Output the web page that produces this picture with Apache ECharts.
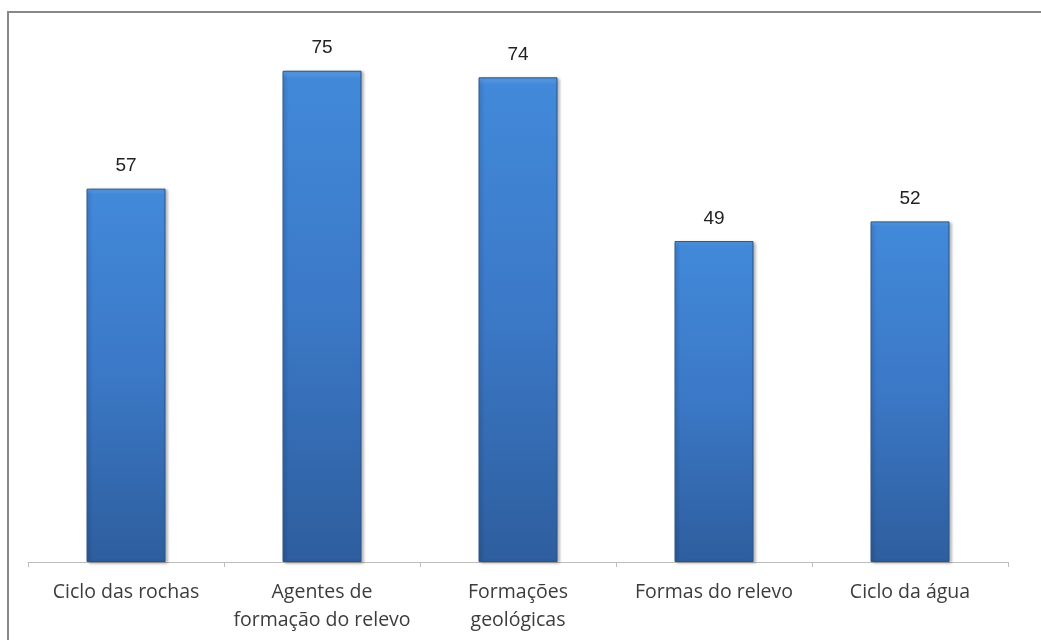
<!DOCTYPE html>
<html>
<head>
<meta charset="utf-8">
<script src="https://cdn.jsdelivr.net/npm/echarts@6/dist/echarts.min.js"></script>
<style>
html,body{margin:0;padding:0;background:#fff;}
#frame{position:absolute;left:7px;top:11px;width:1100px;height:700px;border-top:2px solid #888;border-left:2px solid #888;}
#chart{position:absolute;left:0;top:0;width:1041px;height:640px;}
</style>
</head>
<body>
<div id="frame"></div>
<div id="chart"></div>
<script>
const categories = ["Ciclo das rochas", "Agentes de\nformação do relevo", "Formações\ngeológicas", "Formas do relevo", "Ciclo da água"];
const values = [57, 75, 74, 49, 52];

const chart = echarts.init(document.getElementById('chart'));
chart.setOption({
  backgroundColor: 'transparent',
  animation: false,
  grid: {left: 28, right: 33, top: 38, bottom: 78},
  xAxis: {
    type: 'category',
    data: categories,
    axisLine: {lineStyle: {color: '#bdbdbd', width: 1}},
    axisTick: {show: true, length: 5, lineStyle: {color: '#bdbdbd'}},
    axisLabel: {
      interval: 0, margin: 16, fontSize: 19.5, lineHeight: 28,
      color: '#3c3c3c', fontFamily: 'Open Sans'
    }
  },
  yAxis: {type: 'value', min: 0, max: 80, show: false, splitLine: {show: false}},
  series: [{
    type: 'bar',
    data: values,
    barWidth: 79,
    itemStyle: {
      color: new echarts.graphic.LinearGradient(0, 0, 0, 1, [
        {offset: 0, color: '#63a4ec'},
        {offset: 0.015, color: '#4289da'},
        {offset: 0.5, color: '#3b78c6'},
        {offset: 1, color: '#2e5e9e'}
      ]),
      borderColor: '#28548e',
      borderWidth: 1,
      shadowColor: 'rgba(0,0,0,0.3)',
      shadowBlur: 3,
      shadowOffsetX: 2,
      shadowOffsetY: 1
    },
    label: {
      show: true, position: 'top', distance: 13,
      fontSize: 19, color: '#222', fontFamily: 'Liberation Sans'
    }
  }]
});
</script>
</body>
</html>
